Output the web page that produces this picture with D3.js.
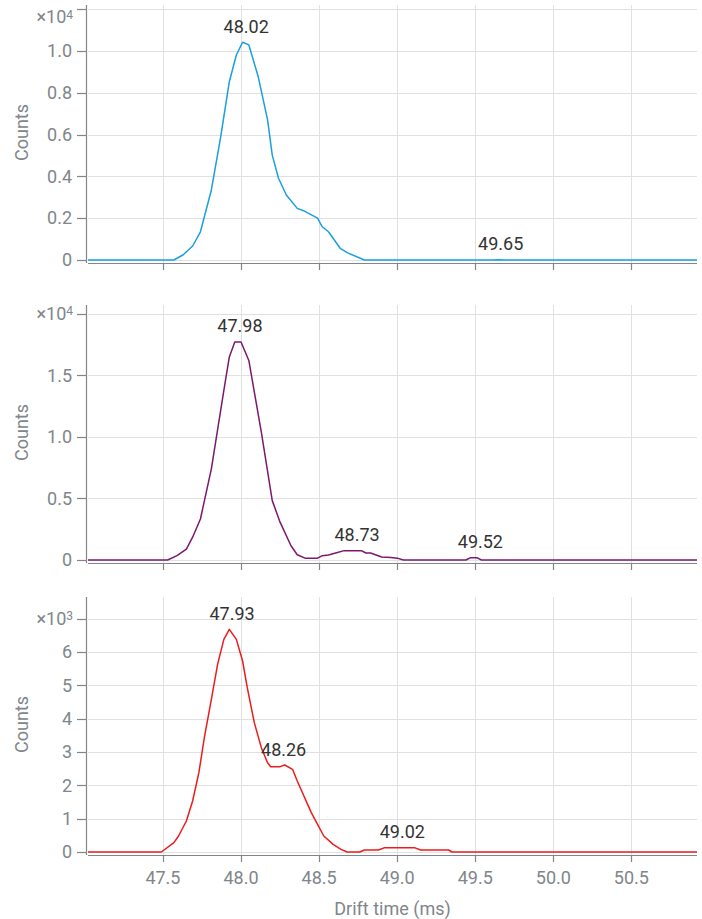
<!DOCTYPE html>
<meta charset="utf-8">
<html>
<head>
<style>
  body { margin:0; background:#fff; font-family: Roboto, "Noto Sans", Arial, sans-serif; }
  .grid { stroke:#e0e0e0; stroke-width:1; }
  .axis { stroke:#80868b; stroke-width:1.2; }
  .tick-label { fill:#80868b; font-size:18px; }
  .peak-label { fill:#333; font-size:18px; }
</style>
</head>
<body>
<svg id="chart" width="702" height="919"></svg>
<script src="https://cdn.jsdelivr.net/npm/d3@7"></script>
<script>

// top trace (blue)
var time1 = [47.02, 47.57, 47.63, 47.69, 47.74, 47.81, 47.87, 47.925, 47.97, 48.01, 48.05, 48.11, 48.17, 48.20, 48.24, 48.29, 48.36, 48.40, 48.49, 48.52, 48.56, 48.635, 48.68, 48.79, 49.61, 49.65, 49.69, 50.92]
var counts1 = [0, 0, 250, 670, 1350, 3350, 5900, 8530, 9810, 10420, 10290, 8770, 6700, 5020, 3910, 3110, 2470, 2360, 2000, 1590, 1350, 560, 350, 0, 0, 10, 0, 0]
var peaks1 = [48.02, 49.65]

// middle trace (purple)
var time2 = [47.02, 47.53, 47.59, 47.65, 47.69, 47.74, 47.81, 47.89, 47.925, 47.96, 48.00, 48.05, 48.13, 48.20, 48.25, 48.32, 48.36, 48.41, 48.49, 48.52, 48.56, 48.60, 48.66, 48.70, 48.77, 48.80, 48.83, 48.90, 48.96, 49.00, 49.04, 49.44, 49.47, 49.51, 49.54, 50.92]
var counts2 = [0, 0, 350, 890, 1850, 3330, 7400, 13770, 16480, 17700, 17700, 16200, 10380, 4820, 3070, 1160, 430, 150, 150, 350, 410, 550, 760, 760, 760, 570, 570, 240, 200, 150, 0, 0, 190, 190, 0, 0]
var peaks2 = [47.98, 48.73, 49.52]

// bottom trace (red)
var time3 = [47.02, 47.49, 47.57, 47.60, 47.65, 47.69, 47.73, 47.765, 47.81, 47.85, 47.89, 47.925, 47.97, 48.01, 48.04, 48.085, 48.13, 48.17, 48.19, 48.25, 48.28, 48.33, 48.36, 48.45, 48.49, 48.53, 48.59, 48.64, 48.68, 48.76, 48.79, 48.88, 48.92, 49.11, 49.15, 49.33, 49.35, 50.92]
var counts3 = [0, 0, 280, 480, 930, 1530, 2380, 3430, 4580, 5630, 6380, 6680, 6380, 5730, 4930, 3880, 3130, 2680, 2560, 2560, 2610, 2480, 2130, 1180, 830, 480, 230, 80, 0, 0, 60, 60, 130, 130, 60, 60, 0, 0]
var peaks3 = [47.93, 48.26, 49.02]

var xTicks = [47.5, 48.0, 48.5, 49.0, 49.5, 50.0, 50.5]

var svg = d3.select("#chart")
var x0 = 88, x1 = 697, plotH = 255
var x = d3.scaleLinear().domain([47.02, 50.92]).range([x0, x1])

var panels = [
  {time: time1, counts: counts1, peaks: peaks1, color: "#1a9fe0", top: 5, yMax: 12200},
  {time: time2, counts: counts2, peaks: peaks2, color: "#7b186f", top: 305, yMax: 20700},
  {time: time3, counts: counts3, peaks: peaks3, color: "#ec1c1c", top: 597, yMax: 7650}
]

panels.forEach(function(p, i) {
  var g = svg.append("g")
  var zero = p.top + plotH
  var axisY = zero + 3
  var y = d3.scaleLinear().domain([0, p.yMax]).range([zero, p.top])
  var ticks = y.ticks(6)
  var topTick = d3.max(ticks)
  var exp = Math.floor(Math.log10(topTick))
  var step = ticks[1] - ticks[0]
  var fmt = d3.format("." + d3.precisionFixed(step / Math.pow(10, exp)) + "f")

  // grid
  g.selectAll(".hgrid").data(ticks).enter().append("line")
    .attr("class", "grid")
    .attr("x1", x0).attr("x2", x1)
    .attr("y1", function(d){ return Math.round(y(d)) + 0.5 })
    .attr("y2", function(d){ return Math.round(y(d)) + 0.5 })
  g.selectAll(".vgrid").data(xTicks).enter().append("line")
    .attr("class", "grid")
    .attr("x1", function(d){ return Math.round(x(d)) + 0.5 })
    .attr("x2", function(d){ return Math.round(x(d)) + 0.5 })
    .attr("y1", p.top).attr("y2", axisY)

  // axes
  g.append("line").attr("class", "axis")
    .attr("x1", 86.5).attr("x2", 86.5).attr("y1", p.top).attr("y2", axisY)
  g.append("line").attr("class", "axis")
    .attr("x1", x0).attr("x2", x1).attr("y1", axisY + 0.5).attr("y2", axisY + 0.5)
  g.selectAll(".xtick").data(xTicks).enter().append("line")
    .attr("class", "axis")
    .attr("x1", function(d){ return Math.round(x(d)) + 0.5 })
    .attr("x2", function(d){ return Math.round(x(d)) + 0.5 })
    .attr("y1", axisY).attr("y2", axisY + 7)
  g.selectAll(".ytick").data(ticks).enter().append("line")
    .attr("class", "axis")
    .attr("x1", 77).attr("x2", 86)
    .attr("y1", function(d){ return Math.round(y(d)) + 0.5 })
    .attr("y2", function(d){ return Math.round(y(d)) + 0.5 })

  // y tick labels
  g.selectAll(".ylab").data(ticks.filter(function(d){ return d < topTick })).enter().append("text")
    .attr("class", "tick-label")
    .attr("x", 72).attr("y", function(d){ return y(d) })
    .attr("dy", "0.35em")
    .attr("text-anchor", "end")
    .text(function(d){ return d === 0 ? "0" : fmt(d / Math.pow(10, exp)) })
  // multiplier sits on the top tick, kept inside the page
  var mult = g.append("text")
    .attr("class", "tick-label")
    .attr("x", 73).attr("y", Math.max(y(topTick), 17))
    .attr("dy", "0.35em")
    .attr("text-anchor", "end")
  mult.append("tspan").text("×10")
  mult.append("tspan").attr("dy", "-0.4em").style("font-size", "12px").text(exp)

  g.append("text")
    .attr("class", "tick-label")
    .attr("transform", "translate(28," + (p.top + plotH / 2) + ") rotate(-90)")
    .attr("text-anchor", "middle")
    .text("Counts")

  // trace
  var pts = p.time.map(function(t, j){ return [t, p.counts[j]] })
  g.append("path")
    .datum(pts)
    .attr("fill", "none")
    .attr("stroke", p.color)
    .attr("stroke-width", 1.5)
    .attr("stroke-linejoin", "round")
    .attr("d", d3.line().x(function(d){ return x(d[0]) }).y(function(d){ return y(d[1]) }))

  // peak labels, placed just above the trace
  var interp = function(t) {
    var j = d3.bisectLeft(p.time, t)
    if (j <= 0) return p.counts[0]
    var a = p.time[j - 1], b = p.time[j]
    return p.counts[j - 1] + (p.counts[j] - p.counts[j - 1]) * (t - a) / (b - a)
  }
  g.selectAll(".peak").data(p.peaks).enter().append("text")
    .attr("class", "peak-label")
    .attr("x", function(d){ return x(d) + 2 })
    .attr("y", function(d){ return y(interp(d)) - 10 })
    .attr("text-anchor", "middle")
    .text(function(d){ return d.toFixed(2) })

  // bottom panel gets x labels
  if (i === panels.length - 1) {
    g.selectAll(".xlab").data(xTicks).enter().append("text")
      .attr("class", "tick-label")
      .attr("x", function(d){ return x(d) })
      .attr("y", axisY + 29)
      .attr("text-anchor", "middle")
      .text(function(d){ return d.toFixed(1) })
    g.append("text")
      .attr("class", "tick-label")
      .attr("x", (x0 + x1) / 2).attr("y", axisY + 60)
      .attr("text-anchor", "middle")
      .text("Drift time (ms)")
  }
})

</script>
</body>
</html>
